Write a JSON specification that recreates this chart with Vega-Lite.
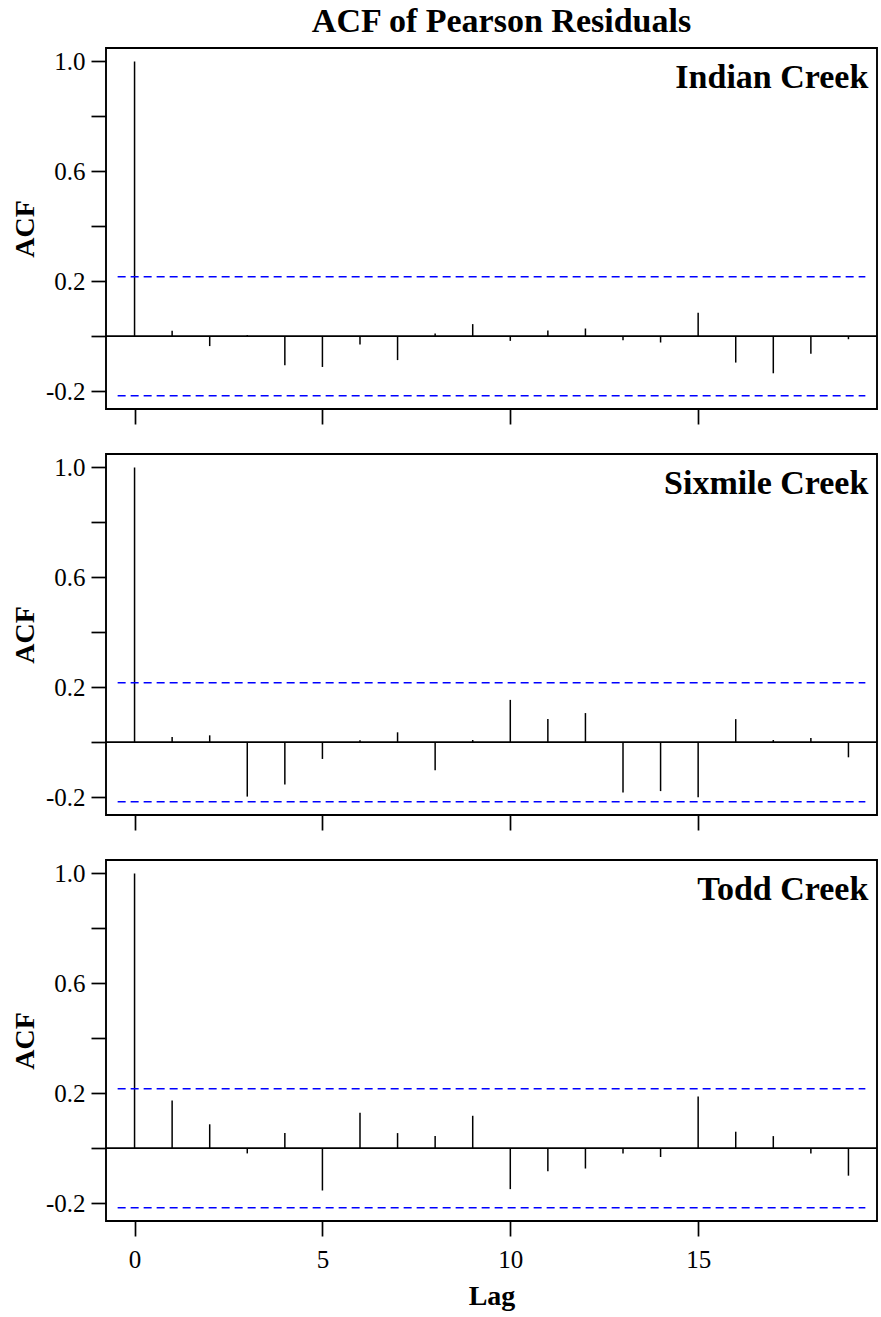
{
  "$schema": "https://vega.github.io/schema/vega-lite/v6.json",
  "background": "white",
  "padding": {"left": 10, "top": 5, "right": 4, "bottom": 5},
  "bounds": "flush",
  "spacing": 45,
  "title": {"text": "ACF of Pearson Residuals", "font": "Liberation Serif", "fontSize": 34, "fontWeight": "bold", "color": "black", "anchor": "middle", "frame": "group", "dx": 10, "offset": 8},
  "config": {
    "view": {"stroke": "black", "strokeWidth": 1.9},
    "font": "Liberation Serif",
    "axis": {"domain": false, "grid": false, "ticks": true, "tickSize": 15, "tickWidth": 1.7, "tickColor": "black", "labelFont": "Liberation Serif", "labelFontSize": 25, "labelColor": "black", "titleFont": "Liberation Serif", "titleFontSize": 28, "titleFontWeight": "bold", "titleColor": "black"}
  },
  "datasets": {
    "acf": [
      {"site": "Indian Creek", "lag": 0, "acf": 1.0},
      {"site": "Indian Creek", "lag": 1, "acf": 0.020},
      {"site": "Indian Creek", "lag": 2, "acf": -0.036},
      {"site": "Indian Creek", "lag": 3, "acf": 0.004},
      {"site": "Indian Creek", "lag": 4, "acf": -0.106},
      {"site": "Indian Creek", "lag": 5, "acf": -0.112},
      {"site": "Indian Creek", "lag": 6, "acf": -0.030},
      {"site": "Indian Creek", "lag": 7, "acf": -0.087},
      {"site": "Indian Creek", "lag": 8, "acf": 0.010},
      {"site": "Indian Creek", "lag": 9, "acf": 0.044},
      {"site": "Indian Creek", "lag": 10, "acf": -0.017},
      {"site": "Indian Creek", "lag": 11, "acf": 0.021},
      {"site": "Indian Creek", "lag": 12, "acf": 0.028},
      {"site": "Indian Creek", "lag": 13, "acf": -0.015},
      {"site": "Indian Creek", "lag": 14, "acf": -0.023},
      {"site": "Indian Creek", "lag": 15, "acf": 0.085},
      {"site": "Indian Creek", "lag": 16, "acf": -0.096},
      {"site": "Indian Creek", "lag": 17, "acf": -0.135},
      {"site": "Indian Creek", "lag": 18, "acf": -0.064},
      {"site": "Indian Creek", "lag": 19, "acf": -0.011},
      {"site": "Sixmile Creek", "lag": 0, "acf": 1.0},
      {"site": "Sixmile Creek", "lag": 1, "acf": 0.019},
      {"site": "Sixmile Creek", "lag": 2, "acf": 0.025},
      {"site": "Sixmile Creek", "lag": 3, "acf": -0.198},
      {"site": "Sixmile Creek", "lag": 4, "acf": -0.154},
      {"site": "Sixmile Creek", "lag": 5, "acf": -0.061},
      {"site": "Sixmile Creek", "lag": 6, "acf": 0.007},
      {"site": "Sixmile Creek", "lag": 7, "acf": 0.036},
      {"site": "Sixmile Creek", "lag": 8, "acf": -0.102},
      {"site": "Sixmile Creek", "lag": 9, "acf": 0.008},
      {"site": "Sixmile Creek", "lag": 10, "acf": 0.154},
      {"site": "Sixmile Creek", "lag": 11, "acf": 0.084},
      {"site": "Sixmile Creek", "lag": 12, "acf": 0.106},
      {"site": "Sixmile Creek", "lag": 13, "acf": -0.183},
      {"site": "Sixmile Creek", "lag": 14, "acf": -0.178},
      {"site": "Sixmile Creek", "lag": 15, "acf": -0.200},
      {"site": "Sixmile Creek", "lag": 16, "acf": 0.084},
      {"site": "Sixmile Creek", "lag": 17, "acf": 0.008},
      {"site": "Sixmile Creek", "lag": 18, "acf": 0.015},
      {"site": "Sixmile Creek", "lag": 19, "acf": -0.055},
      {"site": "Todd Creek", "lag": 0, "acf": 1.0},
      {"site": "Todd Creek", "lag": 1, "acf": 0.174},
      {"site": "Todd Creek", "lag": 2, "acf": 0.087},
      {"site": "Todd Creek", "lag": 3, "acf": -0.019},
      {"site": "Todd Creek", "lag": 4, "acf": 0.055},
      {"site": "Todd Creek", "lag": 5, "acf": -0.154},
      {"site": "Todd Creek", "lag": 6, "acf": 0.129},
      {"site": "Todd Creek", "lag": 7, "acf": 0.055},
      {"site": "Todd Creek", "lag": 8, "acf": 0.044},
      {"site": "Todd Creek", "lag": 9, "acf": 0.118},
      {"site": "Todd Creek", "lag": 10, "acf": -0.149},
      {"site": "Todd Creek", "lag": 11, "acf": -0.084},
      {"site": "Todd Creek", "lag": 12, "acf": -0.074},
      {"site": "Todd Creek", "lag": 13, "acf": -0.019},
      {"site": "Todd Creek", "lag": 14, "acf": -0.032},
      {"site": "Todd Creek", "lag": 15, "acf": 0.188},
      {"site": "Todd Creek", "lag": 16, "acf": 0.060},
      {"site": "Todd Creek", "lag": 17, "acf": 0.044},
      {"site": "Todd Creek", "lag": 18, "acf": -0.019},
      {"site": "Todd Creek", "lag": 19, "acf": -0.100}
    ]
  },
  "vconcat": [
    {
      "width": 771, "height": 361,
      "layer": [
        {
          "data": {"name": "acf"},
          "transform": [{"filter": "datum.site == 'Indian Creek'"}],
          "mark": {"type": "rule", "color": "black", "strokeWidth": 1.5},
          "encoding": {
            "x": {"field": "lag", "type": "quantitative", "scale": {"domain": [-0.76, 19.76], "nice": false, "zero": false}, "axis": {"values": [0, 5, 10, 15], "labels": false, "title": null}},
            "y": {"field": "acf", "type": "quantitative", "title": "ACF", "scale": {"domain": [-0.265, 1.049], "nice": false, "zero": false}, "axis": {"values": [-0.2, 0, 0.2, 0.4, 0.6, 0.8, 1], "labelExpr": "datum.value == 1 ? '1.0' : datum.value == 0.6 ? '0.6' : datum.value == 0.2 ? '0.2' : datum.value == -0.2 ? '-0.2' : ''", "labelPadding": 6, "titlePadding": 6}},
            "y2": {"datum": 0}
          }
        },
        {
          "data": {"values": [{"z": 0}]},
          "mark": {"type": "rule", "color": "black", "strokeWidth": 1.8},
          "encoding": {"y": {"field": "z", "type": "quantitative", "title": "ACF"}}
        },
        {
          "data": {"values": [{"ci": 0.2164}, {"ci": -0.2164}]},
          "mark": {"type": "rule", "color": "#0000ff", "strokeWidth": 1.5, "strokeDash": [8, 5]},
          "encoding": {"y": {"field": "ci", "type": "quantitative", "title": "ACF"}, "x": {"datum": -0.45}, "x2": {"datum": 19.45}}
        },
        {
          "data": {"values": [{"site": "Indian Creek"}]},
          "mark": {"type": "text", "align": "right", "baseline": "alphabetic", "fontSize": 34, "fontWeight": "bold", "font": "Liberation Serif", "color": "black"},
          "encoding": {"x": {"datum": 19.53}, "y": {"datum": 0.905}, "text": {"field": "site"}}
        }
      ]
    },
    {
      "width": 771, "height": 361,
      "layer": [
        {
          "data": {"name": "acf"},
          "transform": [{"filter": "datum.site == 'Sixmile Creek'"}],
          "mark": {"type": "rule", "color": "black", "strokeWidth": 1.5},
          "encoding": {
            "x": {"field": "lag", "type": "quantitative", "scale": {"domain": [-0.76, 19.76], "nice": false, "zero": false}, "axis": {"values": [0, 5, 10, 15], "labels": false, "title": null}},
            "y": {"field": "acf", "type": "quantitative", "title": "ACF", "scale": {"domain": [-0.265, 1.049], "nice": false, "zero": false}, "axis": {"values": [-0.2, 0, 0.2, 0.4, 0.6, 0.8, 1], "labelExpr": "datum.value == 1 ? '1.0' : datum.value == 0.6 ? '0.6' : datum.value == 0.2 ? '0.2' : datum.value == -0.2 ? '-0.2' : ''", "labelPadding": 6, "titlePadding": 6}},
            "y2": {"datum": 0}
          }
        },
        {
          "data": {"values": [{"z": 0}]},
          "mark": {"type": "rule", "color": "black", "strokeWidth": 1.8},
          "encoding": {"y": {"field": "z", "type": "quantitative", "title": "ACF"}}
        },
        {
          "data": {"values": [{"ci": 0.2164}, {"ci": -0.2164}]},
          "mark": {"type": "rule", "color": "#0000ff", "strokeWidth": 1.5, "strokeDash": [8, 5]},
          "encoding": {"y": {"field": "ci", "type": "quantitative", "title": "ACF"}, "x": {"datum": -0.45}, "x2": {"datum": 19.45}}
        },
        {
          "data": {"values": [{"site": "Sixmile Creek"}]},
          "mark": {"type": "text", "align": "right", "baseline": "alphabetic", "fontSize": 34, "fontWeight": "bold", "font": "Liberation Serif", "color": "black"},
          "encoding": {"x": {"datum": 19.53}, "y": {"datum": 0.905}, "text": {"field": "site"}}
        }
      ]
    },
    {
      "width": 771, "height": 361,
      "layer": [
        {
          "data": {"name": "acf"},
          "transform": [{"filter": "datum.site == 'Todd Creek'"}],
          "mark": {"type": "rule", "color": "black", "strokeWidth": 1.5},
          "encoding": {
            "x": {"field": "lag", "type": "quantitative", "title": "Lag", "scale": {"domain": [-0.76, 19.76], "nice": false, "zero": false}, "axis": {"values": [0, 5, 10, 15], "labelPadding": 11, "titlePadding": 10}},
            "y": {"field": "acf", "type": "quantitative", "title": "ACF", "scale": {"domain": [-0.265, 1.049], "nice": false, "zero": false}, "axis": {"values": [-0.2, 0, 0.2, 0.4, 0.6, 0.8, 1], "labelExpr": "datum.value == 1 ? '1.0' : datum.value == 0.6 ? '0.6' : datum.value == 0.2 ? '0.2' : datum.value == -0.2 ? '-0.2' : ''", "labelPadding": 6, "titlePadding": 6}},
            "y2": {"datum": 0}
          }
        },
        {
          "data": {"values": [{"z": 0}]},
          "mark": {"type": "rule", "color": "black", "strokeWidth": 1.8},
          "encoding": {"y": {"field": "z", "type": "quantitative", "title": "ACF"}}
        },
        {
          "data": {"values": [{"ci": 0.2164}, {"ci": -0.2164}]},
          "mark": {"type": "rule", "color": "#0000ff", "strokeWidth": 1.5, "strokeDash": [8, 5]},
          "encoding": {"y": {"field": "ci", "type": "quantitative", "title": "ACF"}, "x": {"datum": -0.45}, "x2": {"datum": 19.45}}
        },
        {
          "data": {"values": [{"site": "Todd Creek"}]},
          "mark": {"type": "text", "align": "right", "baseline": "alphabetic", "fontSize": 34, "fontWeight": "bold", "font": "Liberation Serif", "color": "black"},
          "encoding": {"x": {"datum": 19.53}, "y": {"datum": 0.905}, "text": {"field": "site"}}
        }
      ]
    }
  ]
}
